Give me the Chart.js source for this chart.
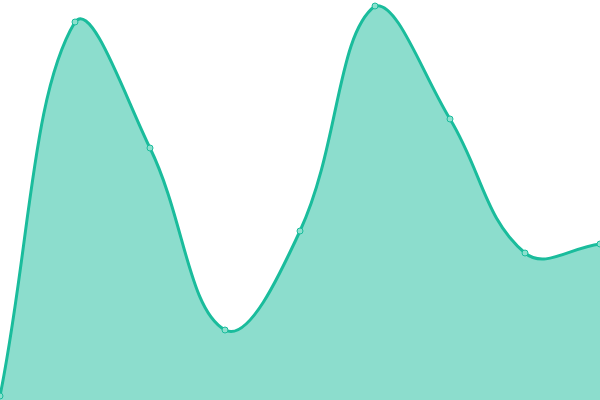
<!DOCTYPE html>
<html lang="en">
  <head>
    <meta charset="UTF-8" />
    <title>Area</title>
    <script src="https://cdn.jsdelivr.net/npm/chart.js"></script>
    <style>
      html, body { margin: 0; padding: 0; background: #fff; }
      .grafico { width: 600px; height: 400px; }
    </style>
  </head>
  <body>
    <div class="grafico">
      <canvas id="myCanvas"></canvas>
    </div>
    <script>
      // valores (escala 0-100)
      const labels = ["1", "2", "3", "4", "5", "6", "7", "8", "9"];
      const valores = [1, 94.5, 63, 17.5, 42.25, 98.5, 70.25, 36.75, 39];

      const ctx = document.getElementById("myCanvas").getContext("2d");
      const myChart = new Chart(ctx, {
        type: "line",
        data: {
          labels: labels,
          datasets: [
            {
              label: "Série",
              data: valores,
              fill: true,
              tension: 0.4,
              borderColor: "rgba(26, 188, 156, 1)",
              backgroundColor: "rgba(26, 188, 156, 0.5)",
              borderWidth: 3,
              pointRadius: 3,
              pointBorderWidth: 1,
              pointBackgroundColor: "rgba(140, 224, 206, 1)",
              pointBorderColor: "rgba(26, 188, 156, 1)",
            },
          ],
        },
        options: {
          responsive: true,
          maintainAspectRatio: false,
          animation: false,
          layout: { autoPadding: false, padding: 0 },
          plugins: {
            legend: { display: false },
            tooltip: { enabled: false },
          },
          scales: {
            x: { display: false },
            y: { display: false, min: 0, max: 100 },
          },
        },
      });
    </script>
  </body>
</html>
